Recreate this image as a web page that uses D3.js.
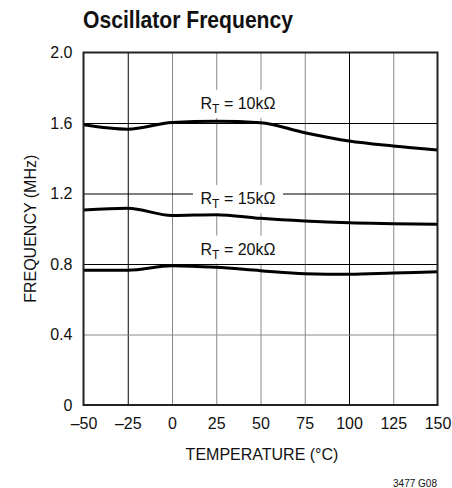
<!DOCTYPE html>
<html><head><meta charset="utf-8">
<script src="https://cdn.jsdelivr.net/npm/d3@7"></script>
<style>body{margin:0;background:#fff}svg{display:block}</style>
</head><body>
<svg id="c" width="452" height="488"></svg>
<script>
const temps = [-50, -25, 0, 25, 50, 75, 100, 125, 150];
const rt10k = [1.59, 1.565, 1.603, 1.61, 1.602, 1.545, 1.498, 1.47, 1.447];
const rt15k = [1.106, 1.116, 1.075, 1.08, 1.059, 1.044, 1.034, 1.029, 1.025];
const rt20k = [0.765, 0.765, 0.79, 0.781, 0.762, 0.745, 0.742, 0.749, 0.756];
const seriesNames = ["10kΩ", "15kΩ", "20kΩ"];
const xTicks = [-50, -25, 0, 25, 50, 75, 100, 125, 150];
const yTicks = [0, 0.4, 0.8, 1.2, 1.6, 2.0];
const darkX = [-25, 100];
const darkY = [0.8, 1.2, 1.6];

const svg = d3.select("#c");
const F = "'Liberation Sans', Arial, sans-serif";
const FN = "'Liberation Sans Narrow', 'Arial Narrow', 'Liberation Sans', sans-serif";
const m = {l: 83.5, r: 437.5, t: 52.5, b: 405};
const x = d3.scaleLinear().domain([-50, 150]).range([m.l, m.r]);
const y = d3.scaleLinear().domain([0, 2]).range([m.b, m.t]);

// grid
const gx = svg.append("g").attr("transform", `translate(0,${m.b})`)
  .call(d3.axisBottom(x).tickValues(xTicks.slice(1, -1)).tickSize(-(m.b - m.t)).tickFormat(""));
gx.select(".domain").remove();
gx.selectAll(".tick line").attr("stroke", d => darkX.includes(d) ? "#000" : "#888").attr("stroke-width", 1);
const gy = svg.append("g").attr("transform", `translate(${m.l},0)`)
  .call(d3.axisLeft(y).tickValues(yTicks.slice(1, -1)).tickSize(-(m.r - m.l)).tickFormat(""));
gy.select(".domain").remove();
gy.selectAll(".tick line").attr("stroke", d => darkY.includes(d) ? "#000" : "#888").attr("stroke-width", 1);

// curves
const line = d3.line().x((d, i) => x(temps[i])).y(d => y(d)).curve(d3.curveMonotoneX);
[rt10k, rt15k, rt20k].forEach(s => {
  svg.append("path").datum(s).attr("d", line).attr("fill", "none")
    .attr("stroke", "#000").attr("stroke-width", 3);
});

// labels
const labelPos = [{v: 1.68, name: seriesNames[0]}, {v: 1.14, name: seriesNames[1]}, {v: 0.853, name: seriesNames[2]}];
labelPos.forEach(lp => {
  const cx = 238, by = y(lp.v);
  svg.append("rect").attr("x", cx - 45).attr("y", by - 19).attr("width", 90).attr("height", 28).attr("fill", "#fff");
  const t = svg.append("text").attr("x", cx).attr("y", by).attr("text-anchor", "middle")
    .attr("font-family", F).attr("font-size", 16).attr("fill", "#111");
  t.append("tspan").text("R");
  t.append("tspan").attr("dy", 4).attr("font-size", 12).text("T");
  t.append("tspan").attr("dy", -4).text(" = " + lp.name);
});

// frame
svg.append("rect").attr("x", m.l).attr("y", m.t).attr("width", m.r - m.l).attr("height", m.b - m.t)
  .attr("fill", "none").attr("stroke", "#222").attr("stroke-width", 2);

// tick labels
const ax = svg.append("g").attr("transform", `translate(0,${m.b})`)
  .call(d3.axisBottom(x).tickValues(xTicks).tickSize(0).tickPadding(13)
    .tickFormat(d => d < 0 ? "\u2013" + Math.abs(d) : d));
ax.select(".domain").remove();
ax.selectAll("text").attr("font-family", F).attr("font-size", 16).attr("fill", "#111");
const ay = svg.append("g").attr("transform", `translate(${m.l},0)`)
  .call(d3.axisLeft(y).tickValues(yTicks).tickSize(0).tickPadding(11)
    .tickFormat(d => d === 0 ? "0" : d3.format(".1f")(d)));
ay.select(".domain").remove();
ay.selectAll("text").attr("font-family", F).attr("font-size", 16).attr("fill", "#111");

// titles
svg.append("text").attr("x", 83).attr("y", 28).attr("font-family", FN).attr("font-weight", "bold")
  .attr("font-size", 24).attr("fill", "#111").attr("textLength", 210).attr("lengthAdjust", "spacingAndGlyphs")
  .text("Oscillator Frequency");
svg.append("text").attr("x", 262).attr("y", 460).attr("text-anchor", "middle").attr("font-family", F)
  .attr("font-size", 16).attr("fill", "#111").text("TEMPERATURE (°C)");
svg.append("text").attr("transform", `translate(36,${(m.t + m.b) / 2}) rotate(-90)`).attr("text-anchor", "middle")
  .attr("font-family", F).attr("font-size", 16).attr("fill", "#111").text("FREQUENCY (MHz)");
svg.append("text").attr("x", 437).attr("y", 487).attr("text-anchor", "end").attr("font-family", F)
  .attr("font-size", 10).attr("fill", "#111").text("3477 G08");
</script>
</body></html>
